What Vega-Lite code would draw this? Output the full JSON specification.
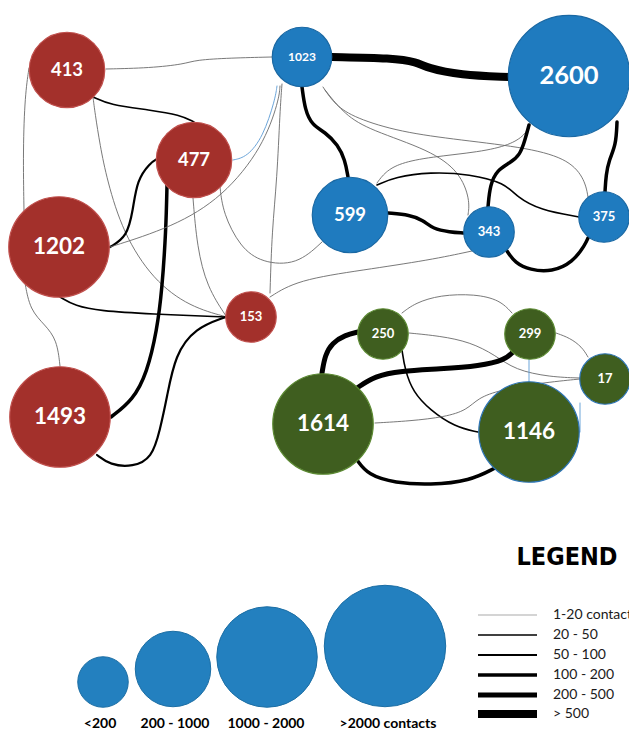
{
  "$schema": "https://vega.github.io/schema/vega-lite/v6.json",
  "width": 629,
  "height": 731,
  "padding": 0,
  "autosize": "none",
  "background": "white",
  "config": {"view": {"stroke": null}},
  "resolve": {"scale": {"size": "independent", "strokeWidth": "independent"}},
  "datasets": {
    "edges": [
      {"e": "e1", "w": "1-20", "x": [106,150,185,195,230,272], "y": [69,68,64,60,58,57]},
      {"e": "e2", "w": "20-50", "x": [93,110,150,180,194], "y": [97,105,110,115,122]},
      {"e": "e3", "w": "1-20", "x": [29,25,23,24], "y": [68,95,150,211]},
      {"e": "e4", "w": "1-20", "x": [93,95,100,107,123,153,190,227], "y": [97,113,145,180,233,280,307,317]},
      {"e": "e5", "w": "50-100", "x": [110,127,133,137,150,157], "y": [247,237,210,180,163,159]},
      {"e": "e6", "w": "100-200", "x": [167,166,162,157,147,133,111], "y": [185,230,290,330,373,400,417]},
      {"e": "e7", "w": "20-50", "x": [60,75,100,150,226], "y": [297,306,311,314,317]},
      {"e": "e8", "w": "50-100", "x": [97,110,133,152,160,167,175,195,226], "y": [455,465,467,458,430,397,355,328,317]},
      {"e": "e9", "w": "1-20", "x": [25,30,45,57,60], "y": [283,310,325,340,366]},
      {"e": "e10", "w": ">500", "x": [332,393,417,427,460,509], "y": [57,58,62,68,75,77]},
      {"e": "e11", "w": "100-200", "x": [302,305,312,325,338,345,348], "y": [87,110,125,132,145,160,177]},
      {"e": "e12", "w": "1-20", "x": [323,335,355,400,460,530,570,585,588], "y": [87,105,118,132,140,148,160,180,197]},
      {"e": "e13", "w": "1-20", "x": [325,345,370,430,460,470,468], "y": [90,115,130,150,172,200,215]},
      {"e": "e14", "w": "1-20", "x": [377,385,400,430,480,510,525,530], "y": [183,172,163,157,152,145,135,125]},
      {"e": "e15", "w": "20-50", "x": [377,395,430,470,505,517,540,579], "y": [185,177,172,174,183,197,210,217]},
      {"e": "e16", "w": "100-200", "x": [388,410,423,433,450,463], "y": [213,215,220,229,232,233]},
      {"e": "e17", "w": "100-200", "x": [488,490,497,510,520,525,529], "y": [207,185,170,163,155,140,125]},
      {"e": "e18", "w": "100-200", "x": [507,515,530,552,573,585,588], "y": [251,263,270,272,262,245,238]},
      {"e": "e19", "w": "100-200", "x": [617,616,609,606,605], "y": [122,145,160,175,192]},
      {"e": "e20", "w": "1-20", "x": [402,415,440,475,500,512], "y": [313,303,295,294,300,313]},
      {"e": "e21", "w": "1-20", "x": [409,440,470,495,515,550,580], "y": [333,336,342,355,370,377,378]},
      {"e": "e22", "w": "20-50", "x": [402,405,413,430,455,478], "y": [350,370,392,410,427,432]},
      {"e": "e23", "w": "200-500", "x": [358,345,332,325,322], "y": [332,335,343,355,373]},
      {"e": "e24", "w": "200-500", "x": [513,505,480,440,400,375,357], "y": [352,360,366,369,371,376,388]},
      {"e": "e25", "w": "1-20", "x": [556,570,582,588], "y": [333,338,347,357]},
      {"e": "e26", "w": "1-20", "x": [529,529], "y": [359,382]},
      {"e": "e27", "w": "1-20", "x": [580,580], "y": [403,432]},
      {"e": "e28", "w": "1-20", "x": [375,410,445,467,478,500,540,580], "y": [423,421,417,410,398,390,383,379]},
      {"e": "e29", "w": "100-200", "x": [357,368,395,430,470,495], "y": [460,475,483,485,481,468]},
      {"e": "e30", "w": "1-20", "x": [277,275,263,247,233], "y": [86,100,137,157,160]},
      {"e": "e31", "w": "1-20", "x": [280,279,263,223,173,110], "y": [86,100,147,197,227,247]},
      {"e": "e32", "w": "1-20", "x": [282,280,277,272,270], "y": [84,110,180,230,293]},
      {"e": "e33", "w": "1-20", "x": [193,197,207,226], "y": [198,247,287,316]},
      {"e": "e34", "w": "1-20", "x": [220,223,240,262,297,322], "y": [187,213,247,263,265,242]},
      {"e": "e35", "w": "1-20", "x": [270,297,363,430,472], "y": [297,280,270,260,251]}
    ],
    "nodes": [
      {"label": "413", "cluster": "red", "tier": "l", "x": 67, "y": 70},
      {"label": "477", "cluster": "red", "tier": "l", "x": 194, "y": 160},
      {"label": "1202", "cluster": "red", "tier": "xl", "x": 59, "y": 247},
      {"label": "153", "cluster": "red", "tier": "s", "x": 251, "y": 317},
      {"label": "1493", "cluster": "red", "tier": "xl", "x": 60, "y": 417},
      {"label": "1023", "cluster": "blue", "tier": "m", "x": 302, "y": 57},
      {"label": "2600", "cluster": "blue", "tier": "xxl", "x": 569, "y": 76},
      {"label": "599", "cluster": "blue", "tier": "l", "x": 350, "y": 215},
      {"label": "343", "cluster": "blue", "tier": "s", "x": 489, "y": 232},
      {"label": "375", "cluster": "blue", "tier": "s", "x": 604, "y": 217},
      {"label": "250", "cluster": "green", "tier": "s", "x": 383, "y": 334},
      {"label": "299", "cluster": "green", "tier": "s", "x": 530, "y": 334},
      {"label": "17", "cluster": "green", "tier": "s", "x": 605, "y": 379},
      {"label": "1614", "cluster": "green", "tier": "xl", "x": 323, "y": 424},
      {"label": "1146", "cluster": "green", "tier": "xl", "x": 529, "y": 432}
    ],
    "sizeLegend": [
      {"tier": "s", "t": "<200", "x": 103, "y": 682, "tx": 100, "ty": 724},
      {"tier": "l", "t": "200 - 1000", "x": 173, "y": 669, "tx": 175, "ty": 724},
      {"tier": "xl", "t": "1000 - 2000", "x": 267, "y": 657, "tx": 266, "ty": 724},
      {"tier": "xxl", "t": ">2000 contacts", "x": 385, "y": 646, "tx": 388, "ty": 724}
    ],
    "lineLegend": [
      {"w": "1-20", "t": "1-20 contacts", "x1": 478, "x2": 537, "tx": 553, "y": 615},
      {"w": "20-50", "t": "20 - 50", "x1": 478, "x2": 537, "tx": 553, "y": 635},
      {"w": "50-100", "t": "50 - 100", "x1": 478, "x2": 537, "tx": 553, "y": 655},
      {"w": "100-200", "t": "100 - 200", "x1": 478, "x2": 537, "tx": 553, "y": 675},
      {"w": "200-500", "t": "200 - 500", "x1": 478, "x2": 537, "tx": 553, "y": 695},
      {"w": ">500", "t": "> 500", "x1": 478, "x2": 537, "tx": 553, "y": 714}
    ],
    "title": [{"t": "LEGEND", "x": 567, "y": 557}]
  },
  "layer": [
    {
      "data": {"name": "edges"},
      "transform": [{"flatten": ["x", "y"]}],
      "mark": {"type": "line", "interpolate": "basis", "strokeCap": "round"},
      "encoding": {
        "x": {"field": "x", "type": "quantitative", "scale": {"domain": [0, 629], "nice": false, "zero": false}, "axis": null},
        "y": {"field": "y", "type": "quantitative", "scale": {"domain": [0, 731], "reverse": true, "nice": false, "zero": false}, "axis": null},
        "detail": {"field": "e", "type": "nominal"},
        "order": {"value": null},
        "strokeWidth": {"field": "w", "type": "ordinal", "scale": {"type": "ordinal", "domain": ["1-20", "20-50", "50-100", "100-200", "200-500", ">500"], "range": [0.9, 1.6, 2.2, 3.5, 5, 8]}, "legend": null},
        "color": {"condition": [{"test": "indexof(['e26','e27','e30'], datum.e) >= 0", "value": "#5B9BD5"}, {"test": "datum.w == '1-20'", "value": "#6a6a6a"}], "value": "#000000"}
      }
    },
    {
      "data": {"name": "nodes"},
      "mark": {"type": "point", "filled": true, "shape": "circle", "opacity": 1, "strokeWidth": 1.2},
      "encoding": {
        "x": {"field": "x", "type": "quantitative", "scale": {"domain": [0, 629], "nice": false, "zero": false}, "axis": null},
        "y": {"field": "y", "type": "quantitative", "scale": {"domain": [0, 731], "reverse": true, "nice": false, "zero": false}, "axis": null},
        "size": {"field": "tier", "type": "ordinal", "scale": {"type": "ordinal", "domain": ["s", "m", "l", "xl", "xxl"], "range": [2550, 3540, 5700, 10100, 14750]}, "legend": null},
        "fill": {"field": "cluster", "type": "nominal", "scale": {"domain": ["red", "blue", "green"], "range": ["#A3302B", "#1F7BBF", "#3F5E1F"]}, "legend": null},
        "stroke": {"condition": {"test": "datum.label == '1146' || datum.label == '17'", "value": "#2E75B6"}, "field": "cluster", "type": "nominal", "scale": {"domain": ["red", "blue", "green"], "range": ["#C0504D", "#1A68A3", "#5C8A33"]}, "legend": null}
      }
    },
    {
      "data": {"name": "nodes"},
      "mark": {"type": "text", "align": "center", "baseline": "middle", "font": "Lato", "fontWeight": "bold", "fill": "#ffffff"},
      "encoding": {
        "x": {"field": "x", "type": "quantitative", "scale": {"domain": [0, 629], "nice": false, "zero": false}, "axis": null},
        "y": {"field": "y", "type": "quantitative", "scale": {"domain": [0, 731], "reverse": true, "nice": false, "zero": false}, "axis": null},
        "text": {"field": "label"},
        "size": {"field": "tier", "type": "ordinal", "scale": {"type": "ordinal", "domain": ["s", "m", "l", "xl", "xxl"], "range": [13, 12, 18.5, 22.5, 25.5]}, "legend": null}
      }
    },
    {
      "data": {"name": "sizeLegend"},
      "mark": {"type": "point", "filled": true, "shape": "circle", "opacity": 1, "fill": "#2380BF", "stroke": "#1C6EA4", "strokeWidth": 1},
      "encoding": {
        "x": {"field": "x", "type": "quantitative", "scale": {"domain": [0, 629], "nice": false, "zero": false}, "axis": null},
        "y": {"field": "y", "type": "quantitative", "scale": {"domain": [0, 731], "reverse": true, "nice": false, "zero": false}, "axis": null},
        "size": {"field": "tier", "type": "ordinal", "scale": {"type": "ordinal", "domain": ["s", "m", "l", "xl", "xxl"], "range": [2550, 3540, 5700, 10100, 14750]}, "legend": null}
      }
    },
    {
      "data": {"name": "sizeLegend"},
      "mark": {"type": "text", "align": "center", "baseline": "middle", "font": "Lato", "fontWeight": "bold", "fontSize": 14, "fill": "#000000"},
      "encoding": {
        "x": {"field": "tx", "type": "quantitative", "scale": {"domain": [0, 629], "nice": false, "zero": false}, "axis": null},
        "y": {"field": "ty", "type": "quantitative", "scale": {"domain": [0, 731], "reverse": true, "nice": false, "zero": false}, "axis": null},
        "text": {"field": "t"}
      }
    },
    {
      "data": {"name": "lineLegend"},
      "mark": {"type": "rule"},
      "encoding": {
        "x": {"field": "x1", "type": "quantitative", "scale": {"domain": [0, 629], "nice": false, "zero": false}, "axis": null},
        "x2": {"field": "x2"},
        "y": {"field": "y", "type": "quantitative", "scale": {"domain": [0, 731], "reverse": true, "nice": false, "zero": false}, "axis": null},
        "strokeWidth": {"field": "w", "type": "ordinal", "scale": {"type": "ordinal", "domain": ["1-20", "20-50", "50-100", "100-200", "200-500", ">500"], "range": [1.2, 1.6, 2.2, 3.5, 5, 8]}, "legend": null},
        "color": {"condition": {"test": "datum.w == '1-20'", "value": "#aaaaaa"}, "value": "#000000"}
      }
    },
    {
      "data": {"name": "lineLegend"},
      "mark": {"type": "text", "align": "left", "baseline": "middle", "font": "Lato", "fontSize": 14, "fill": "#1a1a1a"},
      "encoding": {
        "x": {"field": "tx", "type": "quantitative", "scale": {"domain": [0, 629], "nice": false, "zero": false}, "axis": null},
        "y": {"field": "y", "type": "quantitative", "scale": {"domain": [0, 731], "reverse": true, "nice": false, "zero": false}, "axis": null},
        "text": {"field": "t"}
      }
    },
    {
      "data": {"name": "title"},
      "mark": {"type": "text", "align": "center", "baseline": "middle", "font": "DejaVu Sans Condensed, DejaVu Sans", "fontWeight": "bold", "fontSize": 25, "fill": "#000000"},
      "encoding": {
        "x": {"field": "x", "type": "quantitative", "scale": {"domain": [0, 629], "nice": false, "zero": false}, "axis": null},
        "y": {"field": "y", "type": "quantitative", "scale": {"domain": [0, 731], "reverse": true, "nice": false, "zero": false}, "axis": null},
        "text": {"field": "t"}
      }
    }
  ]
}
